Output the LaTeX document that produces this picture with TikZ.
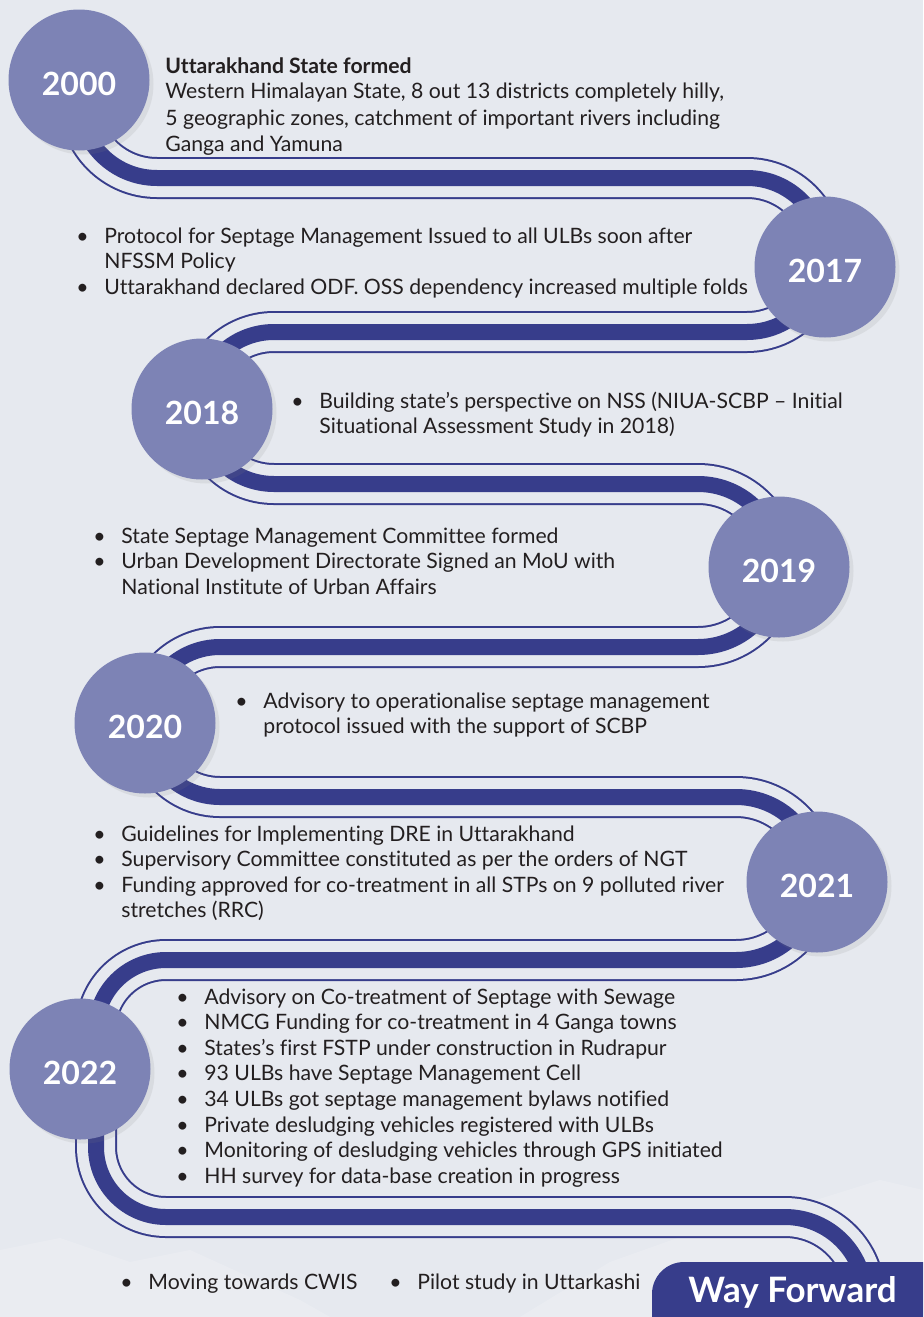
\documentclass[tikz,border=0pt]{standalone}
\usepackage{fontspec}
\setmainfont{Lato}[Ligatures={TeX,NoCommon}]
\usetikzlibrary{shadows}
\definecolor{bgcol}{RGB}{230,233,239}
\definecolor{roadcol}{RGB}{55,61,139}
\definecolor{yearcol}{RGB}{125,131,181}
\definecolor{txtcol}{RGB}{35,31,32}
% centre line of the road, in pixels of the page (y grows downwards)
\newcommand{\roadpath}{(79,80)--(79,100) arc[start angle=180,end angle=90,radius=78]
  --(747,178) arc[start angle=-90,end angle=90,radius=77]
  --(274,332) arc[start angle=-90,end angle=-270,radius=76]
  --(698,484) arc[start angle=-90,end angle=90,radius=81.5]
  --(220,647) arc[start angle=-90,end angle=-270,radius=75]
  --(736,797) arc[start angle=-90,end angle=90,radius=81.5]
  --(166,960) arc[start angle=-90,end angle=-180,radius=70]
  --(96,1147) arc[start angle=180,end angle=90,radius=70]
  --(785,1217) arc[start angle=-90,end angle=0,radius=80]--(865,1340)}
\begin{document}
\begin{tikzpicture}[x=0.5pt,y=-0.5pt,
  roadout/.style={draw=roadcol,line width=21pt},
  roadgap/.style={draw=bgcol,line width=19pt},
  roadcore/.style={draw=roadcol,line width=8pt},
  year/.style={circle,fill=yearcol,minimum size=70.5pt,inner sep=0pt,text=white,
    text height=15pt,text depth=0pt,
    font=\fontsize{16}{18}\selectfont\bfseries,
    drop shadow={opacity=0.13,shadow xshift=2pt,shadow yshift=-2pt}},
  txt/.style={anchor=base west,inner sep=0pt,text=txtcol,font=\fontsize{10.6}{12.8}\selectfont}]
\useasboundingbox (0,0) rectangle (923,1317);
\clip (0,0) rectangle (923,1317);
\fill[bgcol] (0,0) rectangle (923,1317);
% faint hills
\fill[white,opacity=0.18] (0,1317)--(0,1250)--(60,1238)--(130,1262)--(190,1250)--(300,1300)--(330,1317)--cycle;
\fill[white,opacity=0.18] (520,1317)--(610,1262)--(700,1230)--(800,1205)--(880,1180)--(923,1190)--(923,1317)--cycle;
%
\foreach \st in {roadout,roadgap,roadcore}
  \draw[\st] \roadpath;
%
\fill[roadcol,rounded corners=16pt] (652,1262) rectangle (980,1380);
\node[anchor=base west,inner sep=0pt,text=white,font=\fontsize{17.5}{20}\selectfont\bfseries] (wayfwd) at (688,1302) {Way Forward};
%
\node[year] (y2000) at (79,80) {2000};
\node[year] (y2017) at (825,267) {2017};
\node[year] (y2018) at (202,409) {2018};
\node[year] (y2019) at (779,567) {2019};
\node[year] (y2020) at (145,723) {2020};
\node[year] (y2021) at (817,882) {2021};
\node[year] (y2022) at (80,1069) {2022};
%
\node[txt,font=\fontsize{10.6}{13}\selectfont] (t2000) at (165,73) {\begin{tabular}[t]{@{}l@{}}
  \textbf{Uttarakhand State formed}\\
  Western Himalayan State, 8 out 13 districts completely hilly,\\
  5 geographic zones, catchment of important rivers including\\
  Ganga and Yamuna\end{tabular}};
\node[txt] (t2017) at (76,243) {\begin{tabular}[t]{@{}p{14pt}@{}l@{}}
  \textbullet & Protocol for Septage Management Issued to all ULBs soon after\\
  & NFSSM Policy\\
  \textbullet & Uttarakhand declared ODF. OSS dependency increased multiple folds\end{tabular}};
\node[txt] (t2018) at (291,408) {\begin{tabular}[t]{@{}p{14pt}@{}l@{}}
  \textbullet & Building state’s perspective on NSS (NIUA-SCBP – Initial\\
  & Situational Assessment Study in 2018)\end{tabular}};
\node[txt] (t2019) at (93,543) {\begin{tabular}[t]{@{}p{14pt}@{}l@{}}
  \textbullet & State Septage Management Committee formed\\
  \textbullet & Urban Development Directorate Signed an MoU with\\
  & National Institute of Urban Affairs\end{tabular}};
\node[txt] (t2020) at (235,708) {\begin{tabular}[t]{@{}p{14pt}@{}l@{}}
  \textbullet & Advisory to operationalise septage management\\
  & protocol issued with the support of SCBP\end{tabular}};
\node[txt] (t2021) at (93,841) {\begin{tabular}[t]{@{}p{14pt}@{}l@{}}
  \textbullet & Guidelines for Implementing DRE in Uttarakhand\\
  \textbullet & Supervisory Committee constituted as per the orders of NGT\\
  \textbullet & Funding approved for co-treatment in all STPs on 9 polluted river\\
  & stretches (RRC)\end{tabular}};
\node[txt] (t2022) at (176,1004) {\begin{tabular}[t]{@{}p{14pt}@{}l@{}}
  \textbullet & Advisory on Co-treatment of Septage with Sewage\\
  \textbullet & NMCG Funding for co-treatment in 4 Ganga towns\\
  \textbullet & States’s first FSTP under construction in Rudrapur\\
  \textbullet & 93 ULBs have Septage Management Cell\\
  \textbullet & 34 ULBs got septage management bylaws notified\\
  \textbullet & Private desludging vehicles registered with ULBs\\
  \textbullet & Monitoring of desludging vehicles through GPS initiated\\
  \textbullet & HH survey for data-base creation in progress\end{tabular}};
\node[txt] (wf1) at (120,1289) {\begin{tabular}[t]{@{}p{14pt}@{}l@{}}
  \textbullet & Moving towards CWIS\end{tabular}};
\node[txt] (wf2) at (389,1289) {\begin{tabular}[t]{@{}p{14pt}@{}l@{}}
  \textbullet & Pilot study in Uttarkashi\end{tabular}};
\end{tikzpicture}
\end{document}
